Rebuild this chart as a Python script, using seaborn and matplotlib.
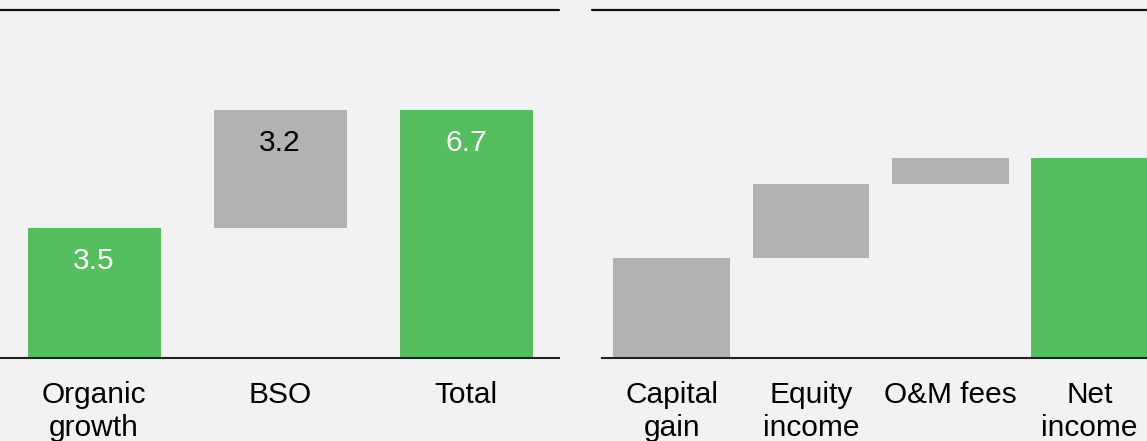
import matplotlib
matplotlib.use("Agg")
import matplotlib.pyplot as plt
from matplotlib.lines import Line2D
import seaborn as sns
import pandas as pd

# ---- data ----
left_categories = ["Organic\ngrowth", "BSO", "Total"]
left_values = [3.5, 3.2, 6.7]
left_kinds = ["total", "step", "total"]
left_labels = ["3.5", "3.2", "6.7"]

right_categories = ["Capital\ngain", "Equity\nincome", "O&M fees", "Net\nincome"]
right_values = [2.7, 2.0, 0.7, 5.4]
right_kinds = ["step", "step", "step", "total"]

# ---- style ----
BG = "#F2F2F2"
GREEN = "#55BE5E"
GRAY = "#B2B2B2"
FS = 21.5

sns.set_theme(style="white")
plt.rcParams["font.family"] = ["Liberation Sans", "DejaVu Sans"]
plt.rcParams["figure.facecolor"] = BG
plt.rcParams["axes.facecolor"] = BG

W, H = 1147, 441
fig = plt.figure(figsize=(W / 100, H / 100), dpi=100)

base_px = 357.5
top_px = 10.0
px_per_unit = 36.94
ymax = (base_px - top_px) / px_per_unit


def frac_rect(x0, x1):
    return [x0 / W, (H - base_px) / H, (x1 - x0) / W, (base_px - top_px) / H]


def waterfall(ax, cats, vals, kinds, bar_width):
    bottoms = []
    running = 0.0
    for v, k in zip(vals, kinds):
        if k == "total":
            bottoms.append(0.0)
            running = v
        else:
            bottoms.append(running)
            running += v
    df = pd.DataFrame({"cat": cats, "val": vals})
    sns.barplot(data=df, x="cat", y="val", order=cats, bottom=bottoms,
                color=GREEN, width=bar_width, ax=ax, linewidth=0, saturation=1)
    for p, k in zip(ax.patches, kinds):
        p.set_facecolor(GREEN if k == "total" else GRAY)
        p.set_edgecolor("none")
    ax.set_xlim(-0.5, len(cats) - 0.5)
    ax.set_ylim(0, ymax)
    ax.set_xlabel("")
    ax.set_ylabel("")
    ax.set_yticks([])
    for s in ["left", "right", "top"]:
        ax.spines[s].set_visible(False)
    ax.spines["bottom"].set_color("#222222")
    ax.spines["bottom"].set_linewidth(1.5)
    ax.tick_params(axis="x", length=0, pad=17, labelsize=FS, colors="black")
    for t in ax.get_xticklabels():
        t.set_color("black")
    return bottoms


ax1 = fig.add_axes(frac_rect(1, 559))
b1 = waterfall(ax1, left_categories, left_values, left_kinds, 133 / 186)
for i, (v, b, k, lab) in enumerate(zip(left_values, b1, left_kinds, left_labels)):
    ax1.annotate(lab, xy=(i, b + v), xytext=(0, -13.5), textcoords="offset points",
                 ha="center", va="top", fontsize=FS,
                 color="white" if k == "total" else "black")

spacing_r = 139.3
ax2 = fig.add_axes(frac_rect(602, 602 + 4 * spacing_r))
waterfall(ax2, right_categories, right_values, right_kinds, 116.5 / spacing_r)

# header rules
y_rule = (H - top_px) / H
fig.add_artist(Line2D([0 / W, 559 / W], [y_rule, y_rule], color="#111111",
                      linewidth=1.6, transform=fig.transFigure))
fig.add_artist(Line2D([592 / W, 1.0], [y_rule, y_rule], color="#111111",
                      linewidth=1.6, transform=fig.transFigure))

fig.savefig("out.png", dpi=100, facecolor=BG)
